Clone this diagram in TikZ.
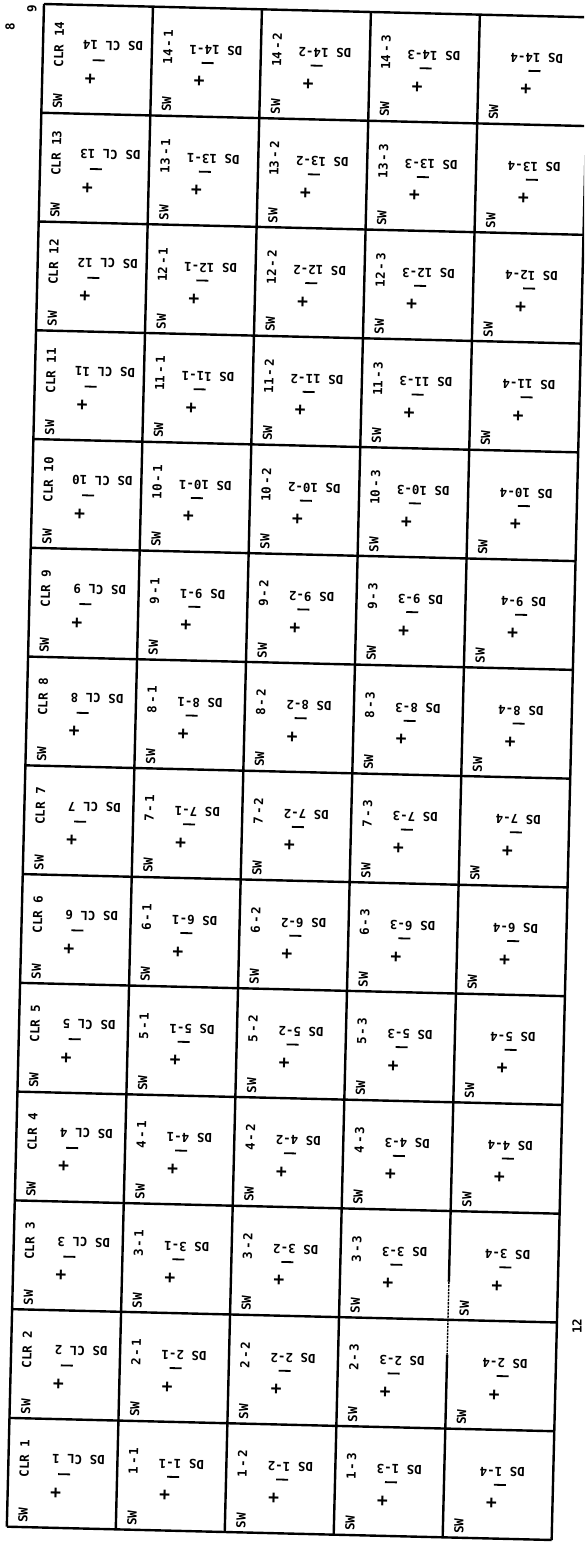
\documentclass[tikz,border=0pt]{standalone}
\usepackage{fontspec}
\setmonofont{DejaVu Sans Mono}
\usetikzlibrary{positioning}
\tikzstyle{lbl} = [font=\ttfamily\bfseries\fontsize{12.5}{12.5}\selectfont, inner sep=0pt, transform shape]
\tikzstyle{up} = [lbl, rotate=90]
\tikzstyle{flip} = [lbl, rotate=180]
\tikzstyle{plusmark} = [font=\ttfamily\bfseries\fontsize{18}{18}\selectfont, inner sep=0pt, transform shape]
\tikzstyle{polbar} = [fill=black, inner sep=0pt, minimum width=12pt, minimum height=1.8pt, transform shape]
\tikzstyle{gridline} = [line width=2.4pt]

\begin{document}
\begin{tikzpicture}[x=1pt,y=-1pt]
  \useasboundingbox (0,0) rectangle (584,1547);
  \clip (0,0) rectangle (584,1547);
  \node [up] (eight) at (10,27) {8};
  \node [up] (nine) at (32,9) {9};
  \node [up] (page) at (577,1326) {12};
  \begin{scope}[shift={(44,4)}, rotate=-1.4]
    \foreach \col in {0,1,2,3,5} \draw [gridline] (\col*109,0) -- (\col*109,14*108.8);
    \draw [gridline] (4*109,0) -- (4*109,11.65*108.8);
    \draw [gridline, densely dotted, line width=1.4pt] (4*109,11.65*108.8) -- (4*109,12.32*108.8);
    \draw [gridline] (4*109,12.32*108.8) -- (4*109,14*108.8);
    \foreach \rw in {0,...,14} \draw [gridline] (0,\rw*108.8) -- (5*109,\rw*108.8);
    \foreach \row in {1,...,14} {
      \pgfmathsetmacro{\ty}{(14-\row)*108.8}
      \foreach \col in {0,...,4} {
        \pgfmathsetmacro{\tx}{\col*109}
        \node [up] (sw-\row-\col) at (\tx+16,\ty+97) {SW};
        \node [plusmark] (plus-\row-\col) at (\tx+48,\ty+74) {+};
        \node [polbar] (bar-\row-\col) at (\tx+56,\ty+55) {};
      }
      \node [up] (clr-\row) at (16,\ty+40) {CLR \row};
      \node [flip] (dscl-\row) at (70,\ty+40) {DS CL \row};
      \foreach \col in {1,2,3} {
        \node [up] (id-\row-\col) at (\col*109+16,\ty+40) {\row\,-\,\col};
        \node [flip] (ds-\row-\col) at (\col*109+64,\ty+42) {DS \row-\col};
      }
      \node [flip] (ds-\row-4) at (4*109+58,\ty+42) {DS \row-4};
    }
  \end{scope}
\end{tikzpicture}
\end{document}
